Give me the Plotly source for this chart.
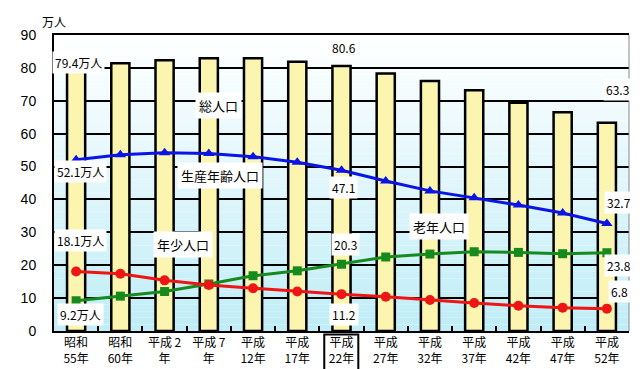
import plotly.graph_objects as go

categories = ["昭和<br>55年", "昭和<br>60年", "平成 2<br>年", "平成 7<br>年", "平成<br>12年", "平成<br>17年",
              "平成<br>22年", "平成<br>27年", "平成<br>32年", "平成<br>37年", "平成<br>42年", "平成<br>47年", "平成<br>52年"]
total = [79.4, 81.4, 82.3, 82.9, 82.9, 81.9, 80.6, 78.3, 76.0, 73.2, 69.4, 66.5, 63.3]
working = [52.1, 53.6, 54.2, 54.0, 53.0, 51.3, 48.9, 45.6, 42.6, 40.5, 38.3, 35.9, 32.7]
elderly = [9.2, 10.6, 12.0, 14.3, 16.8, 18.3, 20.3, 22.5, 23.4, 24.1, 23.9, 23.5, 23.8]
young = [18.1, 17.4, 15.4, 14.0, 13.0, 12.0, 11.2, 10.4, 9.4, 8.5, 7.7, 7.1, 6.8]

# data labels: (text, category index, y value)
labels = [
    ("79.4万人", 0.05, 81.7), ("80.6", 6.05, 86.2), ("63.3", 12.25, 73.5),
    ("52.1万人", 0.11, 48.6), ("47.1", 6.05, 43.7), ("32.7", 12.28, 39.0),
    ("18.1万人", 0.11, 27.5), ("20.3", 6.08, 26.3), ("23.8", 12.28, 19.9),
    ("6.8", 12.28, 12.0), ("9.2万人", 0.09, 5.0), ("11.2", 6.05, 5.0),
]
# series name labels
names = [("総人口", 3.22, 68.5), ("生産年齢人口", 3.26, 47.2), ("老年人口", 8.2, 31.8), ("年少人口", 2.42, 26.3)]

FONT = "Noto Sans CJK JP"

fig = go.Figure()
fig.add_trace(go.Bar(x=categories, y=total, width=0.41,
                     marker=dict(color="#FBF5B0", line=dict(color="black", width=2.5)),
                     showlegend=False))
fig.add_trace(go.Scatter(x=categories, y=working, mode="lines+markers",
                         line=dict(color="#0A14E6", width=3),
                         marker=dict(symbol="triangle-up", size=10, color="#0A14E6"), showlegend=False))
fig.add_trace(go.Scatter(x=categories, y=elderly, mode="lines+markers",
                         line=dict(color="#178A1E", width=3),
                         marker=dict(symbol="square", size=9, color="#178A1E"), showlegend=False))
fig.add_trace(go.Scatter(x=categories, y=young, mode="lines+markers",
                         line=dict(color="#EE1515", width=3),
                         marker=dict(symbol="circle", size=10, color="#EE1515"), showlegend=False))

# background gradient (white at top -> light cyan at bottom)
shapes = []
n = 45
c_top = (255, 255, 255)
c_bot = (192, 237, 247)
for i in range(n):
    t = i / (n - 1)
    col = tuple(round(c_bot[k] + (c_top[k] - c_bot[k]) * t) for k in range(3))
    shapes.append(dict(type="rect", xref="paper", yref="y", x0=0, x1=1,
                       y0=90 * i / n, y1=90 * (i + 1) / n, line=dict(width=0),
                       fillcolor="rgb(%d,%d,%d)" % col, layer="below"))
# box around the 平成22年 tick label
shapes.append(dict(type="rect", xref="x", yref="paper", x0=5.61, x1=6.38, y0=-0.143, y1=-0.012,
                   line=dict(color="black", width=2), layer="above"))
# right border
shapes.append(dict(type="line", xref="paper", yref="paper", x0=1, x1=1, y0=0, y1=1,
                   line=dict(color="#888888", width=1)))

annotations = [dict(text=t, x=x, y=y, xref="x", yref="y", showarrow=False,
                    font=dict(family=FONT, size=12, color="black"),
                    bgcolor="white", borderpad=2) for t, x, y in labels]
annotations += [dict(text=t, x=x, y=y, xref="x", yref="y", showarrow=False,
                     font=dict(family=FONT, size=13, color="black"),
                     bgcolor="white", borderpad=3) for t, x, y in names]
annotations.append(dict(text="万人", x=0.0, y=1.045, xref="paper", yref="paper",
                        xanchor="center", yanchor="middle", showarrow=False,
                        font=dict(family=FONT, size=12, color="black")))

fig.update_layout(
    width=640, height=369,
    margin=dict(l=46, r=19, t=27, b=46),
    paper_bgcolor="white", plot_bgcolor="white",
    shapes=shapes, annotations=annotations,
    bargap=0.59,
    xaxis=dict(type="category", range=[-0.5, 12.5], showline=True, linecolor="black", linewidth=2,
               mirror=True, ticks="inside", tickson="boundaries", ticklen=5, tickwidth=2,
               tickcolor="black", showgrid=False,
               tickfont=dict(family=FONT, size=12, color="black")),
    yaxis=dict(range=[0, 90], dtick=10, showline=True, linecolor="black", linewidth=2,
               showgrid=True, gridcolor="black", gridwidth=2, zeroline=False,
               ticks="", ticklabelstandoff=13,
               tickfont=dict(family="Liberation Sans", size=14, color="black")),
)

fig.write_html("out.html")
